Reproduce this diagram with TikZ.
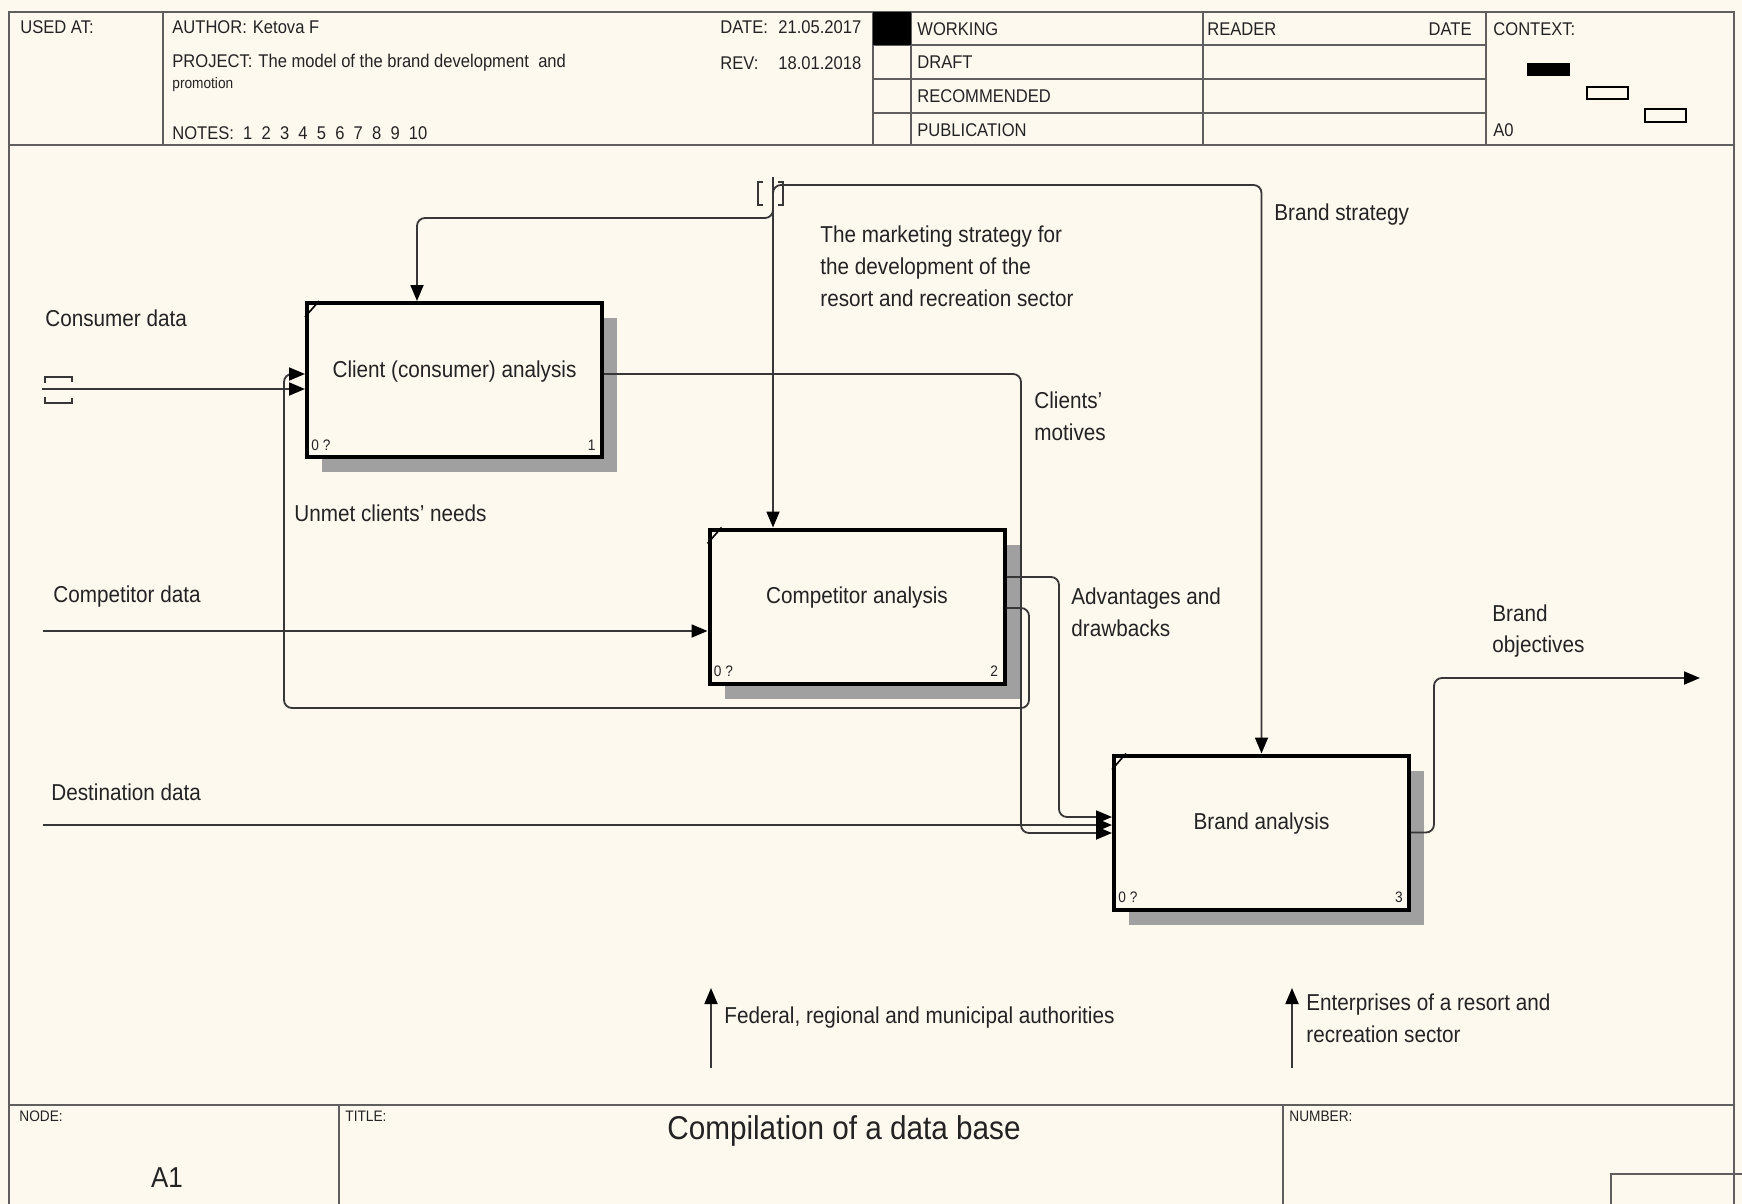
\documentclass[tikz,border=0pt]{standalone}
\usepackage{fontspec}
\setmainfont{Liberation Sans}[FakeStretch=0.9]
\usetikzlibrary{arrows.meta,calc,shadows}
\definecolor{bg}{RGB}{253,249,239}
\definecolor{wirec}{RGB}{55,55,55}
\definecolor{frc}{RGB}{95,95,95}
\definecolor{txt}{RGB}{35,35,35}
\definecolor{shd}{RGB}{160,160,160}
\begin{document}
\begin{tikzpicture}[x=0.5pt,y=-0.5pt,
  lbl/.style={font=\fontsize{11.5}{15.9}\selectfont, text=txt, inner sep=0pt, align=left, anchor=west},
  hdr/.style={font=\fontsize{9.2}{11}\selectfont, text=txt, inner sep=0pt, anchor=west},
  smalltxt/.style={font=\fontsize{7.6}{9}\selectfont, text=txt, inner sep=0pt, anchor=west},
  frameln/.style={draw=frc, line width=1.1pt},
  proc/.style={draw=black, line width=2pt, fill=bg, minimum width=147.5pt, minimum height=77pt, inner sep=0pt, align=center,
    drop shadow={shadow xshift=7.5pt, shadow yshift=-7.5pt, fill=shd, opacity=1},
    font=\fontsize{11.5}{12}\selectfont, text=txt},
  wire/.style={draw=wirec, line width=0.9pt, rounded corners=4pt},
  arr/.style={wire, -{Triangle[length=8pt,width=6.5pt,color=black]}},
  brk/.style={draw=wirec, line width=0.9pt},
]
\useasboundingbox (0,0) rectangle (1742,1204);
\fill[bg] (0,0) rectangle (1742,1204);

% ---------- frame and header ----------
\draw[frameln] (9,1204) -- (9,12) -- (1734,12) -- (1734,1204);
\draw[frameln] (9,145) -- (1734,145);
\foreach \x in {163,873,911,1203,1486} \draw[frameln] (\x,12) -- (\x,145);
\foreach \y in {45,79,113} \draw[frameln] (873,\y) -- (1486,\y);
\fill[black] (873,12) rectangle (911,45);

\node[hdr] (usedat) at (20,27) {USED AT:};
\node[hdr] (author) at (172,27) {AUTHOR:\hspace{3pt}Ketova F};
\node[hdr] (project) at (172,63) {PROJECT:\hspace{3pt}The model of the brand development\ \ and};
\node[smalltxt] (promo) at (172,85) {promotion};
\node[hdr] (notes) at (172,133) {NOTES:\ \ 1\enspace 2\enspace 3\enspace 4\enspace 5\enspace 6\enspace 7\enspace 8\enspace 9\enspace 10};
\node[hdr] (datel) at (720,27) {DATE:};
\node[hdr] (datev) at (778,27) {21.05.2017};
\node[hdr] (revl) at (720,63) {REV:};
\node[hdr] (revv) at (778,63) {18.01.2018};
\node[hdr] (working) at (917,29) {WORKING};
\node[hdr] (draft) at (917,62) {DRAFT};
\node[hdr] (recom) at (917,96) {RECOMMENDED};
\node[hdr] (publ) at (917,130) {PUBLICATION};
\node[hdr] (reader) at (1207,29) {READER};
\node[hdr, anchor=east] (rdate) at (1472,29) {DATE};
\node[hdr] (context) at (1493,29) {CONTEXT:};
\node[hdr] (azero) at (1493,130) {A0};
\fill[black] (1527,63) rectangle (1570,76);
\draw[black, line width=0.8pt] (1587,87) rectangle (1628,99);
\draw[black, line width=0.8pt] (1645,109) rectangle (1686,122);

% ---------- footer ----------
\draw[frameln] (9,1105) -- (1734,1105);
\draw[frameln] (339,1105) -- (339,1204);
\draw[frameln] (1283,1105) -- (1283,1204);
\draw[frameln] (1742,1174) -- (1611,1174) -- (1611,1204);
\node[smalltxt] (nodel) at (19,1116) {NODE:};
\node[smalltxt] (titlel) at (345,1116) {TITLE:};
\node[smalltxt] (numl) at (1289,1116) {NUMBER:};
\node[font=\fontsize{16.5}{18}\selectfont, text=txt, inner sep=0pt] (title) at (844,1131) {Compilation of a data base};
\node[font=\fontsize{14.4}{16}\selectfont, text=txt, inner sep=0pt] (aone) at (167,1178) {A1};

% ---------- activity boxes ----------
\node[proc] (b1) at (454.5,380) {Client (consumer) analysis\\[-1pt]\mbox{}};
\node[proc] (b2) at (857,606.5) {Competitor analysis\\[-1pt]\mbox{}};
\node[proc] (b3) at (1261.5,832.5) {Brand analysis\\[-1pt]\mbox{}};
\foreach \b/\n in {b1/1,b2/2,b3/3}{
  \draw[black, line width=0.8pt] ($(\b.north west)+(0,16)$) -- ($(\b.north west)+(14,0)$);
  \node[smalltxt] (\b q) at ($(\b.south west)+(6,-14)$) {0 ?};
  \node[smalltxt, anchor=east] (\b n) at ($(\b.south east)+(-8,-14)$) {\n};
}

% ---------- control (tunnelled) ----------
\coordinate (tun) at (773,177);
\coordinate (cl) at (417,218);
\draw[arr] (tun) -- (tun |- b2.north);
\draw[arr] (773,196) -- (773,185) -- (1261.5,185) -- (b3.north);
\draw[arr] (773,205) -- (773,218) -- (cl) -- (cl |- b1.north);
\draw[brk] (763,182) -- (758,182) -- (758,205) -- (763,205);
\draw[brk] (778,182) -- (783,182) -- (783,205) -- (778,205);

% ---------- inputs ----------
\coordinate (cin) at (42,389);
\coordinate (kin) at (43,631);
\coordinate (din) at (43,825);
\draw[arr] (cin) -- ($(b1.west)+(0,9)$);
\draw[brk] (45,383) -- (45,377) -- (72,377) -- (72,382);
\draw[brk] (45,397) -- (45,403) -- (72,403) -- (72,398);
\draw[arr] (kin) -- ($(b2.west)+(0,24.5)$);
\draw[arr] (din) -- ($(b3.west)+(0,-7.5)$);

% ---------- internal flows ----------
\draw[arr] ($(b2.east)+(0,1.5)$) -- (1029,608) -- (1029,708) -- (284,708) -- (284,374) -- ($(b1.west)+(0,-6)$);
\draw[arr] ($(b1.east)+(0,-6)$) -- (1021,374) -- (1021,833) -- ($(b3.west)+(0,0.5)$);
\draw[arr] ($(b2.east)+(0,-29.5)$) -- (1059,577) -- (1059,817) -- ($(b3.west)+(0,-15.5)$);

% ---------- output ----------
\coordinate (bo) at (1700,678);
\draw[arr] (b3.east) -- (1434,832.5) -- (1434,678) -- (bo);

% ---------- mechanisms ----------
\coordinate (m1) at (711,1068);
\coordinate (m2) at (1292,1068);
\draw[arr] (m1) -- (711,988);
\draw[arr] (m2) -- (1292,988);

% ---------- labels ----------
\node[lbl] (lcons) at (45,318) {Consumer data};
\node[lbl] (lunmet) at (294,513) {Unmet clients' needs};
\node[lbl] (lmark) at (820,266) {The marketing strategy for\\the development of the\\resort and recreation sector};
\node[lbl] (lmot) at (1034,416) {Clients'\\motives};
\node[lbl] (ladv) at (1071,612) {Advantages and\\drawbacks};
\node[lbl] (lbs) at (1274,215) {Brand strategy};
\node[lbl] (lbo) at (1492,631) {Brand\\objectives};
\node[lbl] (lcomp) at (53,597) {Competitor data};
\node[lbl] (ldest) at (51,792) {Destination data};
\node[lbl] (lfed) at (724,1018) {Federal, regional and municipal authorities};
\node[lbl] (lent) at (1306,1018) {Enterprises of a resort and\\recreation sector};
\end{tikzpicture}
\end{document}
